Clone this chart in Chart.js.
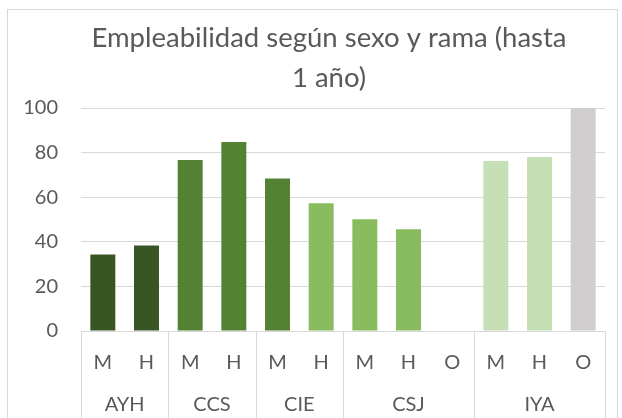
<!DOCTYPE html>
<html>
<head>
<meta charset="utf-8">
<script src="https://cdn.jsdelivr.net/npm/chart.js@4/dist/chart.umd.min.js"></script>
<style>
  html, body { margin: 0; padding: 0; background: #fff; }
  #frame { position: absolute; left: 7px; top: 9px; width: 611px; height: 430px; border: 1px solid #d9d9d9; box-sizing: border-box; }
  #wrap { position: absolute; left: 0; top: 0; width: 622px; height: 418px; }
</style>
</head>
<body>
<div id="frame"></div>
<div id="wrap"><canvas id="c" width="622" height="418"></canvas></div>
<script>
const titleLines = ['Empleabilidad según sexo y rama (hasta', '1 año)'];
const groups = ['AYH', 'CCS', 'CIE', 'CSJ', 'IYA'];
const subLabels = ['M', 'H', 'M', 'H', 'M', 'H', 'M', 'H', 'O', 'M', 'H', 'O'];
const groupIndex = [0, 0, 1, 1, 2, 2, 3, 3, 3, 4, 4, 4];
const values = [34.3, 38.3, 76.7, 84.7, 68.4, 57.3, 50.1, 45.6, null, 76.2, 78.0, 100];
const yTicks = [0, 20, 40, 60, 80, 100];

const barColors = ['#375623', '#375623', '#548235', '#548235', '#548235', '#88bc5e',
                   '#88bc5e', '#88bc5e', '#88bc5e', '#c5e0b4', '#c5e0b4', '#d0cece'];
const FONT = 'Lato, "Open Sans", sans-serif';
const TXT = '#595959';
const LINE = '#d9d9d9';

const titlePlugin = {
  id: 'excelTitle',
  afterDraw(chart) {
    const ctx = chart.ctx;
    ctx.save();
    ctx.fillStyle = TXT;
    ctx.font = '27.5px ' + FONT;
    ctx.textAlign = 'center';
    ctx.textBaseline = 'alphabetic';
    titleLines.forEach((t, i) => ctx.fillText(t, 329, 47 + i * 40));
    ctx.restore();
  }
};

const groupPlugin = {
  id: 'groupAxis',
  afterDraw(chart) {
    const ctx = chart.ctx;
    const xs = chart.scales.x;
    const area = chart.chartArea;
    const half = (xs.getPixelForValue(1) - xs.getPixelForValue(0)) / 2;
    ctx.save();
    ctx.strokeStyle = LINE;
    ctx.lineWidth = 1;
    const edges = [];
    groups.forEach((g, gi) => {
      const idx = groupIndex.map((v, i) => v === gi ? i : -1).filter(i => i >= 0);
      const first = xs.getPixelForValue(idx[0]) - half;
      const last = xs.getPixelForValue(idx[idx.length - 1]) + half;
      edges.push(first, last);
      ctx.fillStyle = TXT;
      ctx.font = '20px ' + FONT;
      ctx.textAlign = 'center';
      ctx.textBaseline = 'middle';
      ctx.fillText(g, (first + last) / 2, 405);
    });
    [...new Set(edges.map(e => Math.round(e)))].forEach(x => {
      ctx.beginPath();
      ctx.moveTo(x + 0.5, area.bottom);
      ctx.lineTo(x + 0.5, chart.height);
      ctx.stroke();
    });
    ctx.restore();
  }
};

new Chart(document.getElementById('c'), {
  type: 'bar',
  data: {
    labels: subLabels,
    datasets: [{
      data: values,
      backgroundColor: barColors,
      borderWidth: 0,
      categoryPercentage: 1,
      barPercentage: 0.572
    }]
  },
  options: {
    responsive: false,
    animation: false,
    events: [],
    layout: { padding: { left: 0, right: 17, top: 108, bottom: 0 } },
    plugins: {
      legend: { display: false },
      tooltip: { enabled: false },
      title: { display: false }
    },
    scales: {
      x: {
        grid: { display: false, drawTicks: false },
        border: { display: true, color: LINE, width: 1 },
        ticks: { color: TXT, font: { family: FONT, size: 20 }, padding: 20, maxRotation: 0, autoSkip: false },
        afterFit(scale) { scale.height = 87; }
      },
      y: {
        min: 0, max: 100,
        afterBuildTicks(scale) { scale.ticks = yTicks.map(v => ({ value: v })); },
        grid: { color: LINE, lineWidth: 1, drawTicks: false },
        border: { display: false },
        ticks: { color: TXT, font: { family: FONT, size: 20 }, padding: 23 },
        afterFit(scale) { scale.width = 81; }
      }
    }
  },
  plugins: [titlePlugin, groupPlugin]
});
</script>
</body>
</html>
